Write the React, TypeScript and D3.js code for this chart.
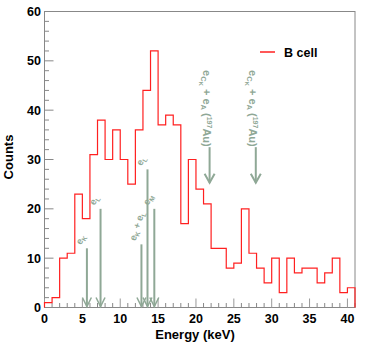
import * as d3 from 'd3';

// histogram: 1 keV bins starting at 0 keV
const counts = [1, 2, 10, 11, 23, 18, 31, 38, 30, 36, 30, 25, 36, 44, 52, 37, 39, 37, 17, 30, 24, 21, 12, 12, 8, 9, 20, 11, 8, 5, 10, 3, 10, 7, 8, 8, 5, 7, 10, 3, 4];
const seriesName = 'B cell';

// small line markers near the bottom
const lineEnergies = [5.6, 7.4, 12.8, 13.6, 14.5];
const lineTops = [12, 20, 12.8, 28, 20];
const lineLabels = [['e', 'K', ''], ['e', 'L', ''], ['e', 'K', ' + e', 'L'], ['e', 'L', ''], ['e', 'M', '']];

// big markers with labels
const bigEnergies = [21.8, 27.9];
const bigTop = [32.5, 32.5];
const bigTip = [25.3, 25.3];

const xTicks = [0, 5, 10, 15, 20, 25, 30, 35, 40];
const yTicks = [0, 10, 20, 30, 40, 50, 60];

const W = 379;
const H = 346;
const m = { left: 44.5, right: 355, top: 11.5, bottom: 307.5 };
const arrowCol = '#8fa896';
const font = 'Liberation Sans, Arial, Helvetica, sans-serif';

export default function App() {
  const x = d3.scaleLinear().domain([0, 41]).range([m.left, m.right]);
  const y = d3.scaleLinear().domain([0, 60]).range([m.bottom, m.top]);

  // step outline of the histogram
  const pts: [number, number][] = [[0, 0]];
  counts.forEach((c, i) => {
    pts.push([i, c]);
    pts.push([i + 1, c]);
  });
  pts.push([counts.length, 0]);
  const histPath = d3.line<[number, number]>().x(d => x(d[0])).y(d => y(d[1]))(pts);

  const minorX = d3.range(0, 42, 1).filter(v => v % 5 !== 0);
  const minorY = d3.range(0, 61, 2).filter(v => v % 10 !== 0);

  return (
    <svg width={W} height={H} style={{ position: 'absolute', left: 0, top: 0, background: '#fff' }} fontFamily={font}>
      <rect x={0} y={0} width={W} height={H} fill="#fff" />
      {/* frame */}
      <rect x={m.left} y={m.top} width={m.right - m.left} height={m.bottom - m.top} fill="none" stroke="#888" strokeWidth={1} />

      {/* x ticks */}
      {xTicks.map(t => (
        <g key={'xt' + t}>
          <line x1={x(t)} x2={x(t)} y1={m.bottom} y2={m.bottom - 9} stroke="#999" />
          <text x={x(t)} y={323} textAnchor="middle" fontSize={12.5} fontWeight="bold">{t}</text>
        </g>
      ))}
      {minorX.map(t => (
        <line key={'xm' + t} x1={x(t)} x2={x(t)} y1={m.bottom} y2={m.bottom - 4.5} stroke="#888" />
      ))}

      {/* y ticks */}
      {yTicks.map(t => (
        <g key={'yt' + t}>
          <line x1={m.left} x2={m.left + 9} y1={y(t)} y2={y(t)} stroke="#888" />
          <text x={41} y={y(t) + 4.5} textAnchor="end" fontSize={12.5} fontWeight="bold">{t}</text>
        </g>
      ))}
      {minorY.map(t => (
        <line key={'ym' + t} x1={m.left} x2={m.left + 4.5} y1={y(t)} y2={y(t)} stroke="#888" />
      ))}

      <text x={195} y={339} textAnchor="middle" fontSize={13} fontWeight="bold">Energy (keV)</text>
      <text transform="translate(13,157) rotate(-90)" textAnchor="middle" fontSize={13} fontWeight="bold">Counts</text>

      {/* histogram */}
      <path d={histPath ?? ''} fill="none" stroke="#ff2020" strokeWidth={1.2} />

      {/* small markers */}
      {lineEnergies.map((e, i) => {
        const ax = x(e);
        const top = y(lineTops[i]);
        const bot = m.bottom - 1;
        const lab = lineLabels[i];
        const ang = i === 2 ? -72 : -60;
        return (
          <g key={'la' + i} stroke={arrowCol} fill="none">
            <line x1={ax} x2={ax} y1={top} y2={bot} strokeWidth={2} />
            <path d={`M${ax - 4.5},${bot - 9} L${ax},${bot} L${ax + 4.5},${bot - 9}`} strokeWidth={1.5} />
            <text transform={`translate(${ax - 6},${top - 3}) rotate(${ang})`} fontSize={9.5} fontWeight="bold" fill={arrowCol} stroke="none">
              {lab[0]}
              <tspan fontSize={6.5} dy={2}>{lab[1]}</tspan>
              {lab[2] && <tspan dy={-2}>{lab[2]}</tspan>}
              {lab[3] && <tspan fontSize={6.5} dy={2}>{lab[3]}</tspan>}
            </text>
          </g>
        );
      })}

      {/* big markers */}
      {bigEnergies.map((e, i) => {
        const ax = x(e);
        const top = y(bigTop[i]);
        const tip = y(bigTip[i]);
        return (
          <g key={'ba' + i} stroke={arrowCol} fill="none">
            <line x1={ax} x2={ax} y1={top} y2={tip} strokeWidth={2} />
            <path d={`M${ax - 5},${tip - 9} L${ax},${tip} L${ax + 5},${tip - 9}`} strokeWidth={2} />
            <text transform={`translate(${ax - 6.5},${70}) rotate(90)`} fontSize={11} fontWeight="bold" fill={arrowCol} stroke="none">
              e<tspan fontSize={7.5} dy={2.5}>C</tspan><tspan fontSize={6} dy={1.5}>K</tspan>
              <tspan dy={-4}> + e</tspan><tspan fontSize={7.5} dy={2.5}>A</tspan>
              <tspan dy={-2.5}> (</tspan><tspan fontSize={7} dy={-3.5}>197</tspan>
              <tspan dy={3.5}>Au)</tspan>
            </text>
          </g>
        );
      })}

      {/* legend */}
      <line x1={260} x2={275} y1={52} y2={52} stroke="#ff2020" strokeWidth={1.5} />
      <text x={284} y={56.5} fontSize={12.5} fontWeight="bold">{seriesName}</text>
    </svg>
  );
}
